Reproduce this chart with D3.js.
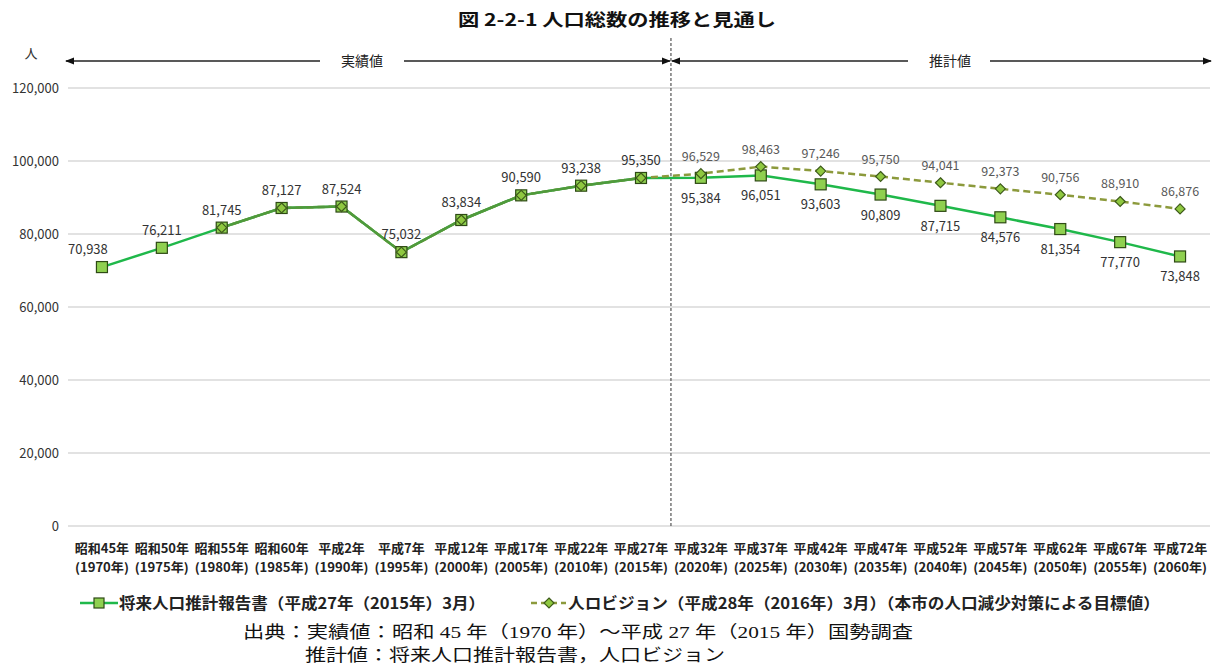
<!DOCTYPE html>
<html><head><meta charset="utf-8">
<script src="https://cdn.jsdelivr.net/npm/d3@7"></script>
<style>body{margin:0;background:#fff}svg{display:block}</style>
</head><body>
<svg id="c" width="1212" height="667"></svg>
<script>
const eras = ["昭和45年","昭和50年","昭和55年","昭和60年","平成2年","平成7年","平成12年","平成17年","平成22年","平成27年","平成32年","平成37年","平成42年","平成47年","平成52年","平成57年","平成62年","平成67年","平成72年"];
const years = ["1970","1975","1980","1985","1990","1995","2000","2005","2010","2015","2020","2025","2030","2035","2040","2045","2050","2055","2060"];
const projection = [70938,76211,81745,87127,87524,75032,83834,90590,93238,95350,95384,96051,93603,90809,87715,84576,81354,77770,73848];
const vision = [null,null,81745,87127,87524,75032,83834,90590,93238,95350,96529,98463,97246,95750,94041,92373,90756,88910,86876];
const yTicks = [0,20000,40000,60000,80000,100000,120000];
const title = "図 2-2-1 人口総数の推移と見通し";
const legendLabels = ["将来人口推計報告書（平成27年（2015年）3月）","人ロビジョン（平成28年（2016年）3月）（本市の人口減少対策による目標値）"];
const sourceLines = ["出典：実績値：昭和 45 年（1970 年）～平成 27 年（2015 年）国勢調査","推計値：将来人口推計報告書，人口ビジョン"];

const svg = d3.select("#c");
const F = "'Noto Sans CJK JP','Noto Sans',sans-serif";
const FS = "'Liberation Serif','Noto Sans CJK JP',serif";
const x = d3.scaleBand().domain(years).range([72,1210]);
const cx = d => x(d) + x.bandwidth()/2;
const y = d3.scaleLinear().domain([0,120000]).range([526,88]);

svg.append("text").attr("x",617).attr("y",26).attr("text-anchor","middle")
  .attr("font-family",F).attr("font-size",17).attr("font-weight","bold").attr("fill","#111")
  .attr("textLength",318).attr("lengthAdjust","spacingAndGlyphs").text(title);

// gridlines
svg.append("g").selectAll("line").data(yTicks).join("line")
  .attr("x1",68).attr("x2",1210).attr("y1",d=>y(d)).attr("y2",d=>y(d))
  .attr("stroke","#d9d9d9").attr("stroke-width",1.5);
svg.append("g").selectAll("text").data(yTicks).join("text")
  .attr("x",59).attr("y",d=>y(d)+4.5).attr("text-anchor","end")
  .attr("font-family",F).attr("font-size",13).attr("fill","#333")
  .text(d3.format(","));
svg.append("text").attr("x",31).attr("y",58).attr("text-anchor","middle")
  .attr("font-family",F).attr("font-size",13).attr("fill","#333").text("人");

// arrows
const defs = svg.append("defs");
defs.append("marker").attr("id","ah").attr("viewBox","0 0 10 10").attr("refX",9).attr("refY",5)
  .attr("markerWidth",7).attr("markerHeight",7).attr("orient","auto-start-reverse")
  .append("path").attr("d","M0,1L10,5L0,9Z").attr("fill","#111");
const divX = (cx("2015")+cx("2020"))/2;
const arrowY = 61;
function arrowSeg(x1,x2,start,end){
  const l = svg.append("line").attr("x1",x1).attr("x2",x2).attr("y1",arrowY).attr("y2",arrowY)
    .attr("stroke","#222").attr("stroke-width",1.3);
  if(start) l.attr("marker-start","url(#ah)");
  if(end) l.attr("marker-end","url(#ah)");
}
arrowSeg(66,320,true,false);
arrowSeg(404,divX-1,false,true);
arrowSeg(divX+1,908,true,false);
arrowSeg(990,1211,false,true);
svg.append("text").attr("x",362).attr("y",arrowY+5).attr("text-anchor","middle")
  .attr("font-family",F).attr("font-size",14).attr("fill","#222").text("実績値");
svg.append("text").attr("x",950).attr("y",arrowY+5).attr("text-anchor","middle")
  .attr("font-family",F).attr("font-size",14).attr("fill","#222").text("推計値");
svg.append("line").attr("x1",divX).attr("x2",divX).attr("y1",38).attr("y2",528)
  .attr("stroke","#555").attr("stroke-width",1.2).attr("stroke-dasharray","3,2");

// lines
const line = d3.line().defined(d=>d.v!=null).x(d=>cx(d.yr)).y(d=>y(d.v));
const pData = projection.map((v,i)=>({yr:years[i],v}));
const vData = vision.map((v,i)=>({yr:years[i],v}));
svg.append("path").datum(pData).attr("d",line).attr("fill","none").attr("stroke","#1fb84a").attr("stroke-width",2.5);
svg.append("path").datum(vData).attr("d",line).attr("fill","none").attr("stroke","#8c9a3c").attr("stroke-width",2.5).attr("stroke-dasharray","7,4");
svg.append("path").datum(vData.slice(2,10)).attr("d",line).attr("fill","none").attr("stroke","#4f9a3c").attr("stroke-width",2.5);

// markers
svg.append("g").selectAll("rect").data(pData).join("rect")
  .attr("x",d=>cx(d.yr)-5.5).attr("y",d=>y(d.v)-5.5).attr("width",11).attr("height",11)
  .attr("fill","#8fd050").attr("stroke","#2e4a14").attr("stroke-width",1.2);
svg.append("g").selectAll("path").data(vData.filter(d=>d.v!=null)).join("path")
  .attr("d",d=>{const X=cx(d.yr),Y=y(d.v);return `M${X},${Y-5}L${X+5},${Y}L${X},${Y+5}L${X-5},${Y}Z`;})
  .attr("fill","#8fc840").attr("stroke","#3d5a1a").attr("stroke-width",1.2);

// data labels
const fmt = d3.format(",");
svg.append("g").selectAll("text").data(d3.range(0,10)).join("text")
  .attr("x",i=>cx(years[i])-(i===0?14:0)).attr("y",i=>y(projection[i])-13)
  .attr("text-anchor","middle").attr("font-family",F).attr("font-size",13).attr("fill","#333")
  .text(i=>fmt(projection[i]));
const futIdx = d3.range(10,19);
svg.append("g").selectAll("text").data(futIdx).join("text")
  .attr("x",i=>cx(years[i])).attr("y",i=>y(projection[i])+25)
  .attr("text-anchor","middle").attr("font-family",F).attr("font-size",13).attr("fill","#333")
  .text(i=>fmt(projection[i]));
svg.append("g").selectAll("text").data(futIdx).join("text")
  .attr("x",i=>cx(years[i])).attr("y",i=>y(vision[i])-13)
  .attr("text-anchor","middle").attr("font-family",F).attr("font-size",12.5).attr("fill","#595959")
  .text(i=>fmt(vision[i]));

// x labels
const xl = svg.append("g").selectAll("g").data(years).join("g");
xl.append("text").attr("x",d=>cx(d)).attr("y",553).attr("text-anchor","middle")
  .attr("font-family",F).attr("font-size",13).attr("font-weight","bold").attr("fill","#222")
  .text((d,i)=>eras[i]);
xl.append("text").attr("x",d=>cx(d)).attr("y",572).attr("text-anchor","middle")
  .attr("font-family",F).attr("font-size",12.5).attr("font-weight","bold").attr("fill","#222")
  .attr("textLength",54).attr("lengthAdjust","spacingAndGlyphs")
  .text(d=>"("+d+"年)");

// legend
const ly = 603;
svg.append("line").attr("x1",80).attr("x2",118).attr("y1",ly).attr("y2",ly).attr("stroke","#1fb84a").attr("stroke-width",2.5);
svg.append("rect").attr("x",94).attr("y",ly-5).attr("width",10).attr("height",10).attr("fill","#8fd050").attr("stroke","#2e4a14").attr("stroke-width",1.2);
svg.append("text").attr("x",119).attr("y",ly+6).attr("font-family",F).attr("font-size",15.5).attr("font-weight","bold").attr("fill","#222")
  .attr("textLength",366).attr("lengthAdjust","spacingAndGlyphs").text(legendLabels[0]);
svg.append("line").attr("x1",531).attr("x2",566).attr("y1",ly).attr("y2",ly).attr("stroke","#8c9a3c").attr("stroke-width",2.5).attr("stroke-dasharray","6,4");
svg.append("path").attr("d",`M549,${ly-5}L554,${ly}L549,${ly+5}L544,${ly}Z`).attr("fill","#8fc840").attr("stroke","#3d5a1a").attr("stroke-width",1.2);
svg.append("text").attr("x",568).attr("y",ly+6).attr("font-family",F).attr("font-size",15.5).attr("font-weight","bold").attr("fill","#222")
  .attr("textLength",592).attr("lengthAdjust","spacingAndGlyphs").text(legendLabels[1]);

// source
svg.append("text").attr("x",243).attr("y",638).attr("font-family",FS).attr("font-size",17).attr("fill","#111")
  .attr("textLength",670).attr("lengthAdjust","spacingAndGlyphs").text(sourceLines[0]);
svg.append("text").attr("x",305).attr("y",661).attr("font-family",FS).attr("font-size",17).attr("fill","#111")
  .attr("textLength",420).attr("lengthAdjust","spacingAndGlyphs").text(sourceLines[1]);
</script>
</body></html>
